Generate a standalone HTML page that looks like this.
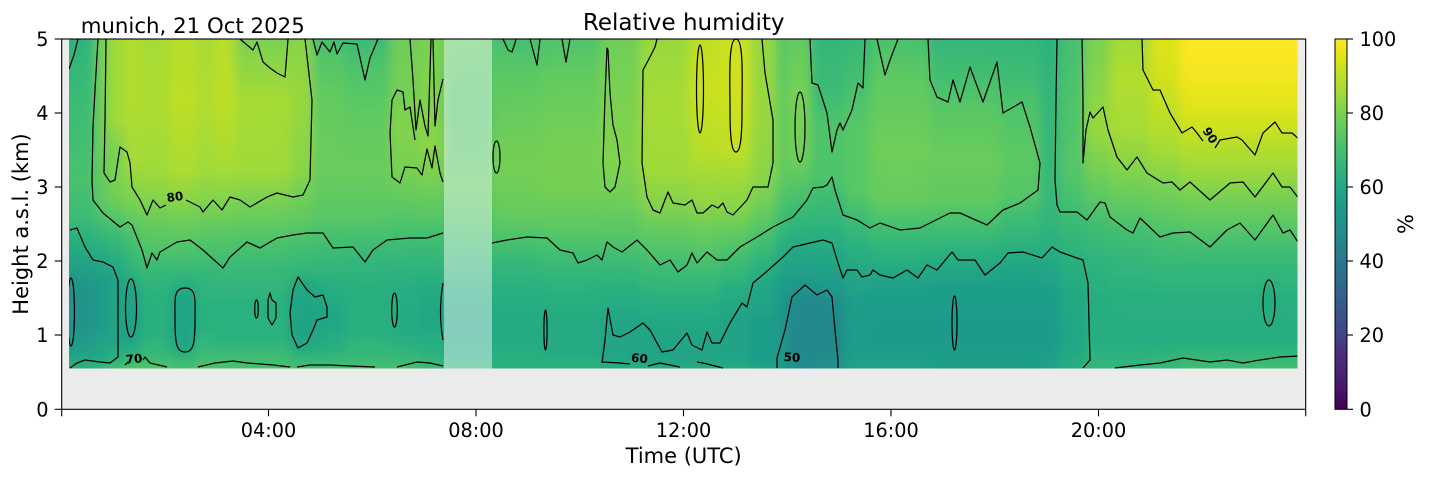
<!DOCTYPE html>
<html><head><meta charset="utf-8"><style>html,body{margin:0;padding:0;background:#fff}svg{display:block}text{font-family:"DejaVu Sans","Liberation Sans",sans-serif}</style></head><body>
<svg width="1429" height="478" viewBox="0 0 1429 478" xmlns="http://www.w3.org/2000/svg">
<defs>
<clipPath id="dc"><rect x="69" y="39" width="1228.5" height="329.5"/></clipPath>
<filter id="bl" x="-3%" y="0" width="106%" height="100%"><feGaussianBlur stdDeviation="5 0"/></filter>
<filter id="bl2" x="-50%" y="-50%" width="200%" height="200%"><feGaussianBlur stdDeviation="4"/></filter>
<linearGradient id="gA" gradientUnits="userSpaceOnUse" x1="0" y1="0" x2="0" y2="1000"><stop offset=".039" stop-color="#2cb27e"/><stop offset=".060" stop-color="#33b67a"/><stop offset=".130" stop-color="#40bd72"/><stop offset=".180" stop-color="#49c16d"/><stop offset=".215" stop-color="#3cbb75"/><stop offset=".240" stop-color="#2aaf7f"/><stop offset=".265" stop-color="#20a186"/><stop offset=".290" stop-color="#20958b"/><stop offset=".330" stop-color="#20958b"/><stop offset=".352" stop-color="#20a187"/><stop offset=".368" stop-color="#2cb27e"/></linearGradient>
<linearGradient id="gB" gradientUnits="userSpaceOnUse" x1="0" y1="0" x2="0" y2="1000"><stop offset=".039" stop-color="#6fce58"/><stop offset=".130" stop-color="#6fce58"/><stop offset=".180" stop-color="#64cb5f"/><stop offset=".205" stop-color="#59c765"/><stop offset=".225" stop-color="#40bd72"/><stop offset=".250" stop-color="#27ad81"/><stop offset=".280" stop-color="#1f9e88"/><stop offset=".330" stop-color="#1f9e88"/><stop offset=".355" stop-color="#22a884"/><stop offset=".368" stop-color="#33b67a"/></linearGradient>
<linearGradient id="gC" gradientUnits="userSpaceOnUse" x1="0" y1="0" x2="0" y2="1000"><stop offset=".039" stop-color="#a0da39"/><stop offset=".120" stop-color="#a0da39"/><stop offset=".150" stop-color="#7ad151"/><stop offset=".175" stop-color="#7ad151"/><stop offset=".195" stop-color="#74cf54"/><stop offset=".215" stop-color="#59c765"/><stop offset=".235" stop-color="#3cbb75"/><stop offset=".260" stop-color="#27ad81"/><stop offset=".280" stop-color="#20a386"/><stop offset=".340" stop-color="#20a386"/><stop offset=".360" stop-color="#2cb27e"/><stop offset=".368" stop-color="#44bf70"/></linearGradient>
<linearGradient id="gD" gradientUnits="userSpaceOnUse" x1="0" y1="0" x2="0" y2="1000"><stop offset=".039" stop-color="#b1dd2e"/><stop offset=".100" stop-color="#b1dd2e"/><stop offset=".160" stop-color="#a6db35"/><stop offset=".195" stop-color="#82d34c"/><stop offset=".215" stop-color="#69cc5b"/><stop offset=".240" stop-color="#44bf70"/><stop offset=".265" stop-color="#33b67a"/><stop offset=".290" stop-color="#22a884"/><stop offset=".320" stop-color="#20a386"/><stop offset=".345" stop-color="#22a884"/><stop offset=".362" stop-color="#3cbb75"/><stop offset=".368" stop-color="#4ec36a"/></linearGradient>
<linearGradient id="gE" gradientUnits="userSpaceOnUse" x1="0" y1="0" x2="0" y2="1000"><stop offset=".039" stop-color="#a6db35"/><stop offset=".100" stop-color="#acdc31"/><stop offset=".170" stop-color="#a0da39"/><stop offset=".200" stop-color="#82d34c"/><stop offset=".220" stop-color="#69cc5b"/><stop offset=".250" stop-color="#4ec36a"/><stop offset=".270" stop-color="#37b877"/><stop offset=".295" stop-color="#2cb27e"/><stop offset=".330" stop-color="#2aaf7f"/><stop offset=".355" stop-color="#37b877"/><stop offset=".368" stop-color="#4ec36a"/></linearGradient>
<linearGradient id="gF" gradientUnits="userSpaceOnUse" x1="0" y1="0" x2="0" y2="1000"><stop offset=".039" stop-color="#b7de2a"/><stop offset=".100" stop-color="#bddf26"/><stop offset=".170" stop-color="#acdc31"/><stop offset=".200" stop-color="#89d547"/><stop offset=".225" stop-color="#69cc5b"/><stop offset=".255" stop-color="#49c16d"/><stop offset=".280" stop-color="#2cb27e"/><stop offset=".300" stop-color="#22a884"/><stop offset=".330" stop-color="#21a685"/><stop offset=".350" stop-color="#27ad81"/><stop offset=".368" stop-color="#44bf70"/></linearGradient>
<linearGradient id="gG" gradientUnits="userSpaceOnUse" x1="0" y1="0" x2="0" y2="1000"><stop offset=".039" stop-color="#a6db35"/><stop offset=".100" stop-color="#b1dd2e"/><stop offset=".170" stop-color="#a0da39"/><stop offset=".200" stop-color="#82d34c"/><stop offset=".225" stop-color="#64cb5f"/><stop offset=".255" stop-color="#44bf70"/><stop offset=".275" stop-color="#33b67a"/><stop offset=".300" stop-color="#2cb27e"/><stop offset=".330" stop-color="#2cb27e"/><stop offset=".355" stop-color="#3cbb75"/><stop offset=".368" stop-color="#4ec36a"/></linearGradient>
<linearGradient id="gH" gradientUnits="userSpaceOnUse" x1="0" y1="0" x2="0" y2="1000"><stop offset=".039" stop-color="#b7de2a"/><stop offset=".100" stop-color="#bddf26"/><stop offset=".170" stop-color="#a6db35"/><stop offset=".200" stop-color="#82d34c"/><stop offset=".225" stop-color="#64cb5f"/><stop offset=".260" stop-color="#40bd72"/><stop offset=".280" stop-color="#33b67a"/><stop offset=".300" stop-color="#2cb27e"/><stop offset=".340" stop-color="#2cb27e"/><stop offset=".368" stop-color="#49c16d"/></linearGradient>
<linearGradient id="gI" gradientUnits="userSpaceOnUse" x1="0" y1="0" x2="0" y2="1000"><stop offset=".039" stop-color="#7ad151"/><stop offset=".060" stop-color="#89d547"/><stop offset=".100" stop-color="#a6db35"/><stop offset=".170" stop-color="#a0da39"/><stop offset=".200" stop-color="#7ad151"/><stop offset=".225" stop-color="#5ec962"/><stop offset=".245" stop-color="#49c16d"/><stop offset=".270" stop-color="#37b877"/><stop offset=".300" stop-color="#2cb27e"/><stop offset=".340" stop-color="#2cb27e"/><stop offset=".368" stop-color="#49c16d"/></linearGradient>
<linearGradient id="gJ" gradientUnits="userSpaceOnUse" x1="0" y1="0" x2="0" y2="1000"><stop offset=".039" stop-color="#89d547"/><stop offset=".100" stop-color="#98d83e"/><stop offset=".170" stop-color="#89d547"/><stop offset=".195" stop-color="#74cf54"/><stop offset=".220" stop-color="#5ec962"/><stop offset=".245" stop-color="#44bf70"/><stop offset=".270" stop-color="#33b67a"/><stop offset=".300" stop-color="#22a884"/><stop offset=".330" stop-color="#20a386"/><stop offset=".350" stop-color="#27ad81"/><stop offset=".368" stop-color="#44bf70"/></linearGradient>
<linearGradient id="gK" gradientUnits="userSpaceOnUse" x1="0" y1="0" x2="0" y2="1000"><stop offset=".039" stop-color="#44bf70"/><stop offset=".060" stop-color="#54c568"/><stop offset=".100" stop-color="#64cb5f"/><stop offset=".170" stop-color="#69cc5b"/><stop offset=".215" stop-color="#59c765"/><stop offset=".240" stop-color="#44bf70"/><stop offset=".265" stop-color="#33b67a"/><stop offset=".290" stop-color="#27ad81"/><stop offset=".320" stop-color="#21a685"/><stop offset=".350" stop-color="#2aaf7f"/><stop offset=".368" stop-color="#44bf70"/></linearGradient>
<linearGradient id="gL" gradientUnits="userSpaceOnUse" x1="0" y1="0" x2="0" y2="1000"><stop offset=".039" stop-color="#3cbb75"/><stop offset=".070" stop-color="#4ec36a"/><stop offset=".110" stop-color="#5ec962"/><stop offset=".170" stop-color="#69cc5b"/><stop offset=".215" stop-color="#59c765"/><stop offset=".238" stop-color="#44bf70"/><stop offset=".260" stop-color="#33b67a"/><stop offset=".290" stop-color="#2aaf7f"/><stop offset=".330" stop-color="#2aaf7f"/><stop offset=".355" stop-color="#37b877"/><stop offset=".368" stop-color="#44bf70"/></linearGradient>
<linearGradient id="gM" gradientUnits="userSpaceOnUse" x1="0" y1="0" x2="0" y2="1000"><stop offset=".039" stop-color="#6fce58"/><stop offset=".090" stop-color="#74cf54"/><stop offset=".130" stop-color="#82d34c"/><stop offset=".175" stop-color="#74cf54"/><stop offset=".210" stop-color="#59c765"/><stop offset=".235" stop-color="#44bf70"/><stop offset=".260" stop-color="#33b67a"/><stop offset=".290" stop-color="#27ad81"/><stop offset=".330" stop-color="#25aa82"/><stop offset=".355" stop-color="#33b67a"/><stop offset=".368" stop-color="#44bf70"/></linearGradient>
<linearGradient id="gN" gradientUnits="userSpaceOnUse" x1="0" y1="0" x2="0" y2="1000"><stop offset=".039" stop-color="#7ad151"/><stop offset=".100" stop-color="#82d34c"/><stop offset=".150" stop-color="#89d547"/><stop offset=".185" stop-color="#74cf54"/><stop offset=".215" stop-color="#59c765"/><stop offset=".232" stop-color="#44bf70"/><stop offset=".260" stop-color="#33b67a"/><stop offset=".290" stop-color="#25aa82"/><stop offset=".320" stop-color="#21a685"/><stop offset=".350" stop-color="#2aaf7f"/><stop offset=".368" stop-color="#3cbb75"/></linearGradient>
<linearGradient id="gO" gradientUnits="userSpaceOnUse" x1="0" y1="0" x2="0" y2="1000"><stop offset=".039" stop-color="#5ec962"/><stop offset=".100" stop-color="#4ec36a"/><stop offset=".150" stop-color="#54c568"/><stop offset=".190" stop-color="#5ec962"/><stop offset=".230" stop-color="#49c16d"/><stop offset=".260" stop-color="#37b877"/><stop offset=".290" stop-color="#27ad81"/><stop offset=".320" stop-color="#20a386"/><stop offset=".345" stop-color="#22a884"/><stop offset=".368" stop-color="#2cb27e"/></linearGradient>
<linearGradient id="gP" gradientUnits="userSpaceOnUse" x1="0" y1="0" x2="0" y2="1000"><stop offset=".039" stop-color="#44bf70"/><stop offset=".070" stop-color="#59c765"/><stop offset=".120" stop-color="#69cc5b"/><stop offset=".170" stop-color="#74cf54"/><stop offset=".215" stop-color="#64cb5f"/><stop offset=".240" stop-color="#49c16d"/><stop offset=".265" stop-color="#33b67a"/><stop offset=".300" stop-color="#27ad81"/><stop offset=".335" stop-color="#25aa82"/><stop offset=".368" stop-color="#2cb27e"/></linearGradient>
<linearGradient id="gQ" gradientUnits="userSpaceOnUse" x1="0" y1="0" x2="0" y2="1000"><stop offset=".039" stop-color="#4ec36a"/><stop offset=".080" stop-color="#64cb5f"/><stop offset=".140" stop-color="#74cf54"/><stop offset=".190" stop-color="#74cf54"/><stop offset=".225" stop-color="#5ec962"/><stop offset=".250" stop-color="#44bf70"/><stop offset=".280" stop-color="#2fb47c"/><stop offset=".320" stop-color="#25aa82"/><stop offset=".350" stop-color="#25aa82"/><stop offset=".368" stop-color="#2cb27e"/></linearGradient>
<linearGradient id="gR" gradientUnits="userSpaceOnUse" x1="0" y1="0" x2="0" y2="1000"><stop offset=".039" stop-color="#6fce58"/><stop offset=".100" stop-color="#7ad151"/><stop offset=".160" stop-color="#82d34c"/><stop offset=".200" stop-color="#6fce58"/><stop offset=".235" stop-color="#54c568"/><stop offset=".260" stop-color="#3cbb75"/><stop offset=".290" stop-color="#2aaf7f"/><stop offset=".320" stop-color="#21a685"/><stop offset=".350" stop-color="#20a386"/><stop offset=".368" stop-color="#27ad81"/></linearGradient>
<linearGradient id="gS" gradientUnits="userSpaceOnUse" x1="0" y1="0" x2="0" y2="1000"><stop offset=".039" stop-color="#98d83e"/><stop offset=".100" stop-color="#a6db35"/><stop offset=".170" stop-color="#a0da39"/><stop offset=".205" stop-color="#82d34c"/><stop offset=".235" stop-color="#5ec962"/><stop offset=".265" stop-color="#40bd72"/><stop offset=".300" stop-color="#2aaf7f"/><stop offset=".330" stop-color="#21a685"/><stop offset=".355" stop-color="#20a386"/><stop offset=".368" stop-color="#25aa82"/></linearGradient>
<linearGradient id="gT" gradientUnits="userSpaceOnUse" x1="0" y1="0" x2="0" y2="1000"><stop offset=".039" stop-color="#bddf26"/><stop offset=".090" stop-color="#cbe120"/><stop offset=".150" stop-color="#b7de2a"/><stop offset=".200" stop-color="#91d643"/><stop offset=".240" stop-color="#5ec962"/><stop offset=".270" stop-color="#40bd72"/><stop offset=".300" stop-color="#2aaf7f"/><stop offset=".330" stop-color="#21a685"/><stop offset=".355" stop-color="#20a386"/><stop offset=".368" stop-color="#25aa82"/></linearGradient>
<linearGradient id="gU" gradientUnits="userSpaceOnUse" x1="0" y1="0" x2="0" y2="1000"><stop offset=".039" stop-color="#cbe120"/><stop offset=".090" stop-color="#d1e11e"/><stop offset=".150" stop-color="#bddf26"/><stop offset=".205" stop-color="#89d547"/><stop offset=".235" stop-color="#5ec962"/><stop offset=".260" stop-color="#40bd72"/><stop offset=".290" stop-color="#27ad81"/><stop offset=".320" stop-color="#20a386"/><stop offset=".355" stop-color="#20a386"/><stop offset=".368" stop-color="#25aa82"/></linearGradient>
<linearGradient id="gV" gradientUnits="userSpaceOnUse" x1="0" y1="0" x2="0" y2="1000"><stop offset=".039" stop-color="#98d83e"/><stop offset=".120" stop-color="#98d83e"/><stop offset=".180" stop-color="#89d547"/><stop offset=".215" stop-color="#64cb5f"/><stop offset=".235" stop-color="#49c16d"/><stop offset=".260" stop-color="#2fb47c"/><stop offset=".285" stop-color="#22a884"/><stop offset=".320" stop-color="#1f9e88"/><stop offset=".355" stop-color="#1e9c89"/><stop offset=".368" stop-color="#20a386"/></linearGradient>
<linearGradient id="gW" gradientUnits="userSpaceOnUse" x1="0" y1="0" x2="0" y2="1000"><stop offset=".039" stop-color="#59c765"/><stop offset=".100" stop-color="#64cb5f"/><stop offset=".170" stop-color="#64cb5f"/><stop offset=".205" stop-color="#49c16d"/><stop offset=".230" stop-color="#33b67a"/><stop offset=".255" stop-color="#25aa82"/><stop offset=".285" stop-color="#1e9c89"/><stop offset=".330" stop-color="#20958b"/><stop offset=".368" stop-color="#1f9a8a"/></linearGradient>
<linearGradient id="gX1" gradientUnits="userSpaceOnUse" x1="0" y1="0" x2="0" y2="1000"><stop offset=".039" stop-color="#64cb5f"/><stop offset=".100" stop-color="#7ad151"/><stop offset=".160" stop-color="#6fce58"/><stop offset=".190" stop-color="#4ec36a"/><stop offset=".215" stop-color="#37b877"/><stop offset=".245" stop-color="#25aa82"/><stop offset=".280" stop-color="#1f9a8a"/><stop offset=".300" stop-color="#228f8c"/><stop offset=".340" stop-color="#238a8d"/><stop offset=".368" stop-color="#228f8c"/></linearGradient>
<linearGradient id="gX2" gradientUnits="userSpaceOnUse" x1="0" y1="0" x2="0" y2="1000"><stop offset=".039" stop-color="#33b67a"/><stop offset=".090" stop-color="#3cbb75"/><stop offset=".130" stop-color="#4ec36a"/><stop offset=".175" stop-color="#4ec36a"/><stop offset=".200" stop-color="#3cbb75"/><stop offset=".230" stop-color="#2cb27e"/><stop offset=".255" stop-color="#22a884"/><stop offset=".285" stop-color="#1f9a8a"/><stop offset=".300" stop-color="#228f8c"/><stop offset=".340" stop-color="#238a8d"/><stop offset=".368" stop-color="#21918c"/></linearGradient>
<linearGradient id="gY" gradientUnits="userSpaceOnUse" x1="0" y1="0" x2="0" y2="1000"><stop offset=".039" stop-color="#37b877"/><stop offset=".080" stop-color="#44bf70"/><stop offset=".130" stop-color="#59c765"/><stop offset=".190" stop-color="#59c765"/><stop offset=".215" stop-color="#40bd72"/><stop offset=".240" stop-color="#2fb47c"/><stop offset=".270" stop-color="#22a884"/><stop offset=".300" stop-color="#1f9e88"/><stop offset=".340" stop-color="#1e9c89"/><stop offset=".368" stop-color="#20a187"/></linearGradient>
<linearGradient id="gZ" gradientUnits="userSpaceOnUse" x1="0" y1="0" x2="0" y2="1000"><stop offset=".039" stop-color="#49c16d"/><stop offset=".080" stop-color="#5ec962"/><stop offset=".150" stop-color="#6fce58"/><stop offset=".200" stop-color="#64cb5f"/><stop offset=".225" stop-color="#44bf70"/><stop offset=".250" stop-color="#2fb47c"/><stop offset=".275" stop-color="#21a685"/><stop offset=".300" stop-color="#1e9c89"/><stop offset=".340" stop-color="#1f9a8a"/><stop offset=".368" stop-color="#20a187"/></linearGradient>
<linearGradient id="gAA" gradientUnits="userSpaceOnUse" x1="0" y1="0" x2="0" y2="1000"><stop offset=".039" stop-color="#33b67a"/><stop offset=".080" stop-color="#44bf70"/><stop offset=".110" stop-color="#59c765"/><stop offset=".160" stop-color="#69cc5b"/><stop offset=".200" stop-color="#5ec962"/><stop offset=".225" stop-color="#44bf70"/><stop offset=".250" stop-color="#2cb27e"/><stop offset=".275" stop-color="#20a386"/><stop offset=".300" stop-color="#1e9c89"/><stop offset=".340" stop-color="#1f9a8a"/><stop offset=".368" stop-color="#1f9e88"/></linearGradient>
<linearGradient id="gAB" gradientUnits="userSpaceOnUse" x1="0" y1="0" x2="0" y2="1000"><stop offset=".039" stop-color="#33b67a"/><stop offset=".070" stop-color="#3cbb75"/><stop offset=".110" stop-color="#4ec36a"/><stop offset=".160" stop-color="#5ec962"/><stop offset=".195" stop-color="#54c568"/><stop offset=".215" stop-color="#40bd72"/><stop offset=".245" stop-color="#2cb27e"/><stop offset=".270" stop-color="#20a386"/><stop offset=".300" stop-color="#1e9c89"/><stop offset=".340" stop-color="#1f9a8a"/><stop offset=".368" stop-color="#1f9e88"/></linearGradient>
<linearGradient id="gAC" gradientUnits="userSpaceOnUse" x1="0" y1="0" x2="0" y2="1000"><stop offset=".039" stop-color="#2cb27e"/><stop offset=".100" stop-color="#33b67a"/><stop offset=".180" stop-color="#37b877"/><stop offset=".215" stop-color="#33b67a"/><stop offset=".245" stop-color="#2aaf7f"/><stop offset=".270" stop-color="#21a685"/><stop offset=".300" stop-color="#1e9c89"/><stop offset=".340" stop-color="#1f9a8a"/><stop offset=".368" stop-color="#20a187"/></linearGradient>
<linearGradient id="gAD" gradientUnits="userSpaceOnUse" x1="0" y1="0" x2="0" y2="1000"><stop offset=".039" stop-color="#44bf70"/><stop offset=".100" stop-color="#4ec36a"/><stop offset=".170" stop-color="#54c568"/><stop offset=".205" stop-color="#44bf70"/><stop offset=".230" stop-color="#37b877"/><stop offset=".260" stop-color="#2aaf7f"/><stop offset=".300" stop-color="#22a884"/><stop offset=".340" stop-color="#21a685"/><stop offset=".368" stop-color="#27ad81"/></linearGradient>
<linearGradient id="gAE" gradientUnits="userSpaceOnUse" x1="0" y1="0" x2="0" y2="1000"><stop offset=".039" stop-color="#7ad151"/><stop offset=".090" stop-color="#89d547"/><stop offset=".130" stop-color="#98d83e"/><stop offset=".170" stop-color="#74cf54"/><stop offset=".200" stop-color="#59c765"/><stop offset=".225" stop-color="#40bd72"/><stop offset=".260" stop-color="#2fb47c"/><stop offset=".300" stop-color="#27ad81"/><stop offset=".340" stop-color="#27ad81"/><stop offset=".368" stop-color="#33b67a"/></linearGradient>
<linearGradient id="gAF" gradientUnits="userSpaceOnUse" x1="0" y1="0" x2="0" y2="1000"><stop offset=".039" stop-color="#a0da39"/><stop offset=".080" stop-color="#b1dd2e"/><stop offset=".130" stop-color="#a6db35"/><stop offset=".170" stop-color="#82d34c"/><stop offset=".200" stop-color="#64cb5f"/><stop offset=".230" stop-color="#44bf70"/><stop offset=".260" stop-color="#33b67a"/><stop offset=".300" stop-color="#2aaf7f"/><stop offset=".340" stop-color="#27ad81"/><stop offset=".368" stop-color="#33b67a"/></linearGradient>
<linearGradient id="gAG" gradientUnits="userSpaceOnUse" x1="0" y1="0" x2="0" y2="1000"><stop offset=".039" stop-color="#dfe318"/><stop offset=".080" stop-color="#d1e11e"/><stop offset=".115" stop-color="#bddf26"/><stop offset=".150" stop-color="#a6db35"/><stop offset=".185" stop-color="#7ad151"/><stop offset=".215" stop-color="#5ec962"/><stop offset=".240" stop-color="#44bf70"/><stop offset=".270" stop-color="#33b67a"/><stop offset=".300" stop-color="#2aaf7f"/><stop offset=".340" stop-color="#27ad81"/><stop offset=".368" stop-color="#37b877"/></linearGradient>
<linearGradient id="gAH" gradientUnits="userSpaceOnUse" x1="0" y1="0" x2="0" y2="1000"><stop offset=".039" stop-color="#fde725"/><stop offset=".070" stop-color="#f7e622"/><stop offset=".100" stop-color="#e5e41b"/><stop offset=".130" stop-color="#cbe120"/><stop offset=".145" stop-color="#b7de2a"/><stop offset=".175" stop-color="#98d83e"/><stop offset=".195" stop-color="#7ad151"/><stop offset=".220" stop-color="#5ec962"/><stop offset=".245" stop-color="#44bf70"/><stop offset=".270" stop-color="#33b67a"/><stop offset=".300" stop-color="#2aaf7f"/><stop offset=".340" stop-color="#27ad81"/><stop offset=".360" stop-color="#37b877"/><stop offset=".368" stop-color="#40bd72"/></linearGradient>
<linearGradient id="cb" x1="0" y1="1" x2="0" y2="0"><stop offset="0" stop-color="#440154"/><stop offset=".05" stop-color="#471365"/><stop offset=".1" stop-color="#482475"/><stop offset=".15" stop-color="#472f7d"/><stop offset=".2" stop-color="#414487"/><stop offset=".25" stop-color="#3b528b"/><stop offset=".3" stop-color="#355f8d"/><stop offset=".35" stop-color="#2f6c8e"/><stop offset=".4" stop-color="#2a788e"/><stop offset=".45" stop-color="#25858e"/><stop offset=".5" stop-color="#21918c"/><stop offset=".55" stop-color="#1e9c89"/><stop offset=".6" stop-color="#22a884"/><stop offset=".65" stop-color="#2fb47c"/><stop offset=".7" stop-color="#44bf70"/><stop offset=".75" stop-color="#5ec962"/><stop offset=".8" stop-color="#7ad151"/><stop offset=".85" stop-color="#a0da39"/><stop offset=".9" stop-color="#bddf26"/><stop offset=".95" stop-color="#dfe318"/><stop offset="1" stop-color="#fde725"/></linearGradient>
</defs>

<rect x="0" y="0" width="1429" height="478" fill="#fff"/>
<!-- axes background -->
<rect x="61.7" y="39" width="1244" height="370.3" fill="#ebebeb"/>

<!-- field -->
<g clip-path="url(#dc)">
<g filter="url(#bl)">
<rect x="30" y="30" width="65" height="345" fill="url(#gA)"/>
<rect x="95" y="30" width="13" height="345" fill="url(#gB)"/>
<rect x="108" y="30" width="17" height="345" fill="url(#gC)"/>
<rect x="125" y="30" width="15" height="345" fill="url(#gD)"/>
<rect x="140" y="30" width="30" height="345" fill="url(#gE)"/>
<rect x="170" y="30" width="25" height="345" fill="url(#gF)"/>
<rect x="195" y="30" width="20" height="345" fill="url(#gG)"/>
<rect x="215" y="30" width="20" height="345" fill="url(#gH)"/>
<rect x="235" y="30" width="55" height="345" fill="url(#gI)"/>
<rect x="290" y="30" width="22" height="345" fill="url(#gJ)"/>
<rect x="312" y="30" width="33" height="345" fill="url(#gK)"/>
<rect x="345" y="30" width="45" height="345" fill="url(#gL)"/>
<rect x="390" y="30" width="30" height="345" fill="url(#gM)"/>
<rect x="420" y="30" width="24" height="345" fill="url(#gN)"/>
<rect x="444" y="30" width="48" height="345" fill="url(#gO)"/>
<rect x="492" y="30" width="48" height="345" fill="url(#gP)"/>
<rect x="540" y="30" width="60" height="345" fill="url(#gQ)"/>
<rect x="600" y="30" width="40" height="345" fill="url(#gR)"/>
<rect x="640" y="30" width="50" height="345" fill="url(#gS)"/>
<rect x="690" y="30" width="30" height="345" fill="url(#gT)"/>
<rect x="720" y="30" width="30" height="345" fill="url(#gU)"/>
<rect x="750" y="30" width="25" height="345" fill="url(#gV)"/>
<rect x="775" y="30" width="15" height="345" fill="url(#gW)"/>
<rect x="790" y="30" width="20" height="345" fill="url(#gX1)"/>
<rect x="810" y="30" width="35" height="345" fill="url(#gX2)"/>
<rect x="845" y="30" width="25" height="345" fill="url(#gY)"/>
<rect x="870" y="30" width="60" height="345" fill="url(#gZ)"/>
<rect x="930" y="30" width="70" height="345" fill="url(#gAA)"/>
<rect x="1000" y="30" width="40" height="345" fill="url(#gAB)"/>
<rect x="1040" y="30" width="20" height="345" fill="url(#gAC)"/>
<rect x="1060" y="30" width="25" height="345" fill="url(#gAD)"/>
<rect x="1085" y="30" width="25" height="345" fill="url(#gAE)"/>
<rect x="1110" y="30" width="40" height="345" fill="url(#gAF)"/>
<rect x="1150" y="30" width="30" height="345" fill="url(#gAG)"/>
<rect x="1180" y="30" width="150" height="345" fill="url(#gAH)"/>
</g>
<g filter="url(#bl2)">
<ellipse cx="72" cy="312" rx="6" ry="34" fill="#21918c" opacity="0.7"/>
<ellipse cx="131" cy="308" rx="7" ry="28" fill="#1f9e88" opacity="0.6"/>
<ellipse cx="185" cy="320" rx="10" ry="31" fill="#20a386" opacity="0.6"/>
<ellipse cx="307" cy="312" rx="17" ry="34" fill="#20a386" opacity="0.6"/>
<ellipse cx="811" cy="328" rx="24" ry="36" fill="#25858e" opacity="0.5"/>
<ellipse cx="1269" cy="303" rx="6" ry="22" fill="#22a884" opacity="0.6"/>
<ellipse cx="700" cy="89" rx="4" ry="44" fill="#cbe120" opacity="0.6"/>
<ellipse cx="736" cy="96" rx="6" ry="55" fill="#d1e11e" opacity="0.6"/>
</g>
<!-- gap overlay -->
<rect x="444" y="39" width="48" height="330" fill="#fff" fill-opacity="0.45"/>
</g>

<!-- contour lines -->
<g clip-path="url(#dc)" fill="none" stroke="#000" stroke-width="1.25" stroke-linejoin="round">
<path d="M69,69 L74,55 L78,39"/>
<path d="M98,39 L95,90 L93,127 L92,180 L93,200 L103,213 L120,227 L128,222 L132,225 L142,250 L147,268 L152,253 L157,260 L160,252 L177,242 L190,240 L203,250 L223,268 L230,257 L247,242 L260,248 L277,238 L293,235 L307,233 L323,233 L333,248 L353,247 L365,262 L373,250 L387,240 L410,238 L427,238 L443,233"/>
<path d="M106,39 L105,120 L104,173 L110,182 L115,180 L120,147 L127,152 L130,163 L132,187 L140,200 L147,215 L153,200 L160,208 L166,205 M186,200 L200,207 L203,212 L213,200 L222,210 L230,197 L240,200 L250,207 L267,197 L277,193 L293,197 L303,195 L310,180 L312,100 L305,39"/>
<path d="M240,39 L253,50 L257,42 L263,62 L270,68 L277,73 L285,77 L288,39"/>
<path d="M313,39 L317,55 L322,42 L330,52 L334,42 L337,54 L343,43 L357,44 L365,80 L370,58 L378,39"/>
<path d="M443,182 L440,173 L435,146 L432,168 L427,149 L422,175 L417,168 L405,167 L400,183 L392,177 L390,133 L392,100 L397,90 L403,92 L405,110 L410,107 L415,140"/>
<path d="M410,39 L413,80 L416,130 L420,100 L425,126 L428,136 L431,39 M433,39 L435,126 L438,100 L443,79"/>
<path d="M70,230 L77,228 L85,247 L93,260 L103,262 L113,267 L118,280 L118,357 L110,363 L100,362 L85,360 L77,363 L70,368"/>
<ellipse cx="71" cy="312" rx="3.5" ry="34"/>
<ellipse cx="131" cy="308" rx="5.5" ry="29"/>
<path d="M185,288 C197,288 195,300 195,320 C195,345 193,352 185,352 C177,352 175,345 175,320 C175,300 173,288 185,288 Z"/>
<ellipse cx="256.5" cy="309" rx="1.8" ry="9"/>
<path d="M270,293 L272,300 L276,303 L276,318 L272,325 L268,318 L268,300 Z"/>
<path d="M298,277 L293,290 L290,313 L292,335 L298,348 L307,343 L313,330 L317,320 L327,317 L327,307 L323,295 L315,297 L307,290 Z"/>
<ellipse cx="394.5" cy="310" rx="2.8" ry="17"/>
<path d="M443,283 Q438,312 443,340"/>
<path d="M125,365 L128,362 M143,360 L145,357 L150,363 L167,367"/>
<path d="M198,367 L215,363 L233,361 L247,363 L273,365 L290,367"/>
<path d="M297,367 L310,365 L330,365 L350,366 L375,367"/>
<path d="M397,367 L417,362 L430,363 L443,366"/>
<path d="M492,243 L507,240 L527,237 L547,238 L560,250 L573,253 L578,263 L587,260 L597,255 L602,260 L607,242 L613,247 L622,252 L637,240 L647,250 L660,265 L670,260 L678,272 L687,265 L692,253 L697,263 L707,252 L717,260 L727,260 L740,247 L757,237 L773,227 L793,217 L807,200 L813,188 L823,187 L827,185 L832,177 L835,190 L843,215 L857,220 L870,228 L880,223 L900,230 L920,228 L950,213 L960,213 L987,225 L1003,210 L1020,203 L1038,190 L1040,163 L1030,127 L1022,102 L1003,113 L997,62 L983,102 L970,67 L960,102 L953,80 L948,102 L937,97 L930,80 L928,39"/>
<ellipse cx="496.5" cy="157" rx="3.5" ry="16"/>
<path d="M503,39 L508,50 L512,52 L515,43 L516,39"/>
<path d="M530,39 L537,65 L540,39"/>
<path d="M562,39 L566,62 L570,39"/>
<path d="M607,48 L605,97 L603,163 L605,187 L610,192 L615,187 L620,163 L617,140 L613,125 L610,93 L608,50 Z"/>
<ellipse cx="545.5" cy="330" rx="1.6" ry="20"/>
<path d="M657,39 L655,47 L650,57 L643,70 L642,163 L647,197 L653,210 L660,213 L668,192 L673,203 L685,205 L692,200 L697,213 L703,213 L712,205 L718,208 L723,203 L727,212 L733,215 L747,200 L753,187 L768,187 L773,163 L773,120 L765,73 L762,39"/>
<ellipse cx="700" cy="89" rx="3.5" ry="44"/>
<path d="M736,39 C744,39 742,80 742,110 C742,140 740,152 736,152 C732,152 730,140 730,110 C730,80 728,39 736,39 Z"/>
<ellipse cx="800" cy="127" rx="5" ry="35"/>
<path d="M810,39 L812,83 L818,85 L827,113 L832,152 L837,130 L840,123 L843,130 L852,110 L858,83 L863,88 L865,39"/>
<path d="M877,39 L885,75 L890,60 L898,39"/>
<path d="M602,363 L605,340 L608,308 L613,335 L620,337 L630,332 L643,323 L650,330 L662,352 L673,350 L687,333 L692,345 L702,350 L707,332 L712,343 L720,343 L730,323 L742,303 L747,307 L753,283 L765,273 L783,257 L793,247 L823,240 L832,243 L838,263 L843,278 L847,270 L857,270 L862,277 L870,275 L873,270 L880,275 L893,278 L907,270 L918,278 L927,265 L937,270 L952,252 L958,260 L975,260 L985,275 L1000,263 L1008,253 L1023,252 L1042,258 L1052,247 L1060,252 L1077,258 L1083,260 L1088,283 L1090,360 L1083,368"/>
<path d="M602,362 L620,363 L630,364 M648,366 L660,363 L680,367 M697,362 L703,363 L723,368"/>
<path d="M777,368 L777,358 L785,330 L792,297 L805,285 L817,295 L827,290 L832,297 L835,330 L838,360 L838,368"/>
<ellipse cx="954.5" cy="323" rx="2.5" ry="27"/>
<ellipse cx="1269" cy="303" rx="6" ry="23"/>
<path d="M1057,39 L1056,100 L1055,180 L1057,205 L1060,212 L1077,212 L1087,220 L1100,202 L1105,203 L1110,217 L1127,230 L1133,233 L1140,218 L1160,237 L1173,233 L1190,232 L1210,247 L1227,230 L1240,223 L1255,240 L1273,215 L1283,233 L1290,230 L1300,245"/>
<path d="M1082,39 L1083,100 L1083,163 L1086,130 L1090,112 L1093,118 L1103,107 L1108,130 L1117,157 L1127,170 L1137,157 L1147,173 L1163,183 L1172,182 L1180,190 L1190,182 L1210,200 L1230,183 L1243,182 L1255,197 L1273,173 L1282,187 L1290,187 L1300,200"/>
<path d="M1142,39 L1143,70 L1153,90 L1160,90 L1170,113 L1182,133 L1192,127 L1197,133 L1203,141 M1215,148 L1220,140 L1237,137 L1242,140 L1255,155 L1263,133 L1275,122 L1282,133 L1292,133 L1300,140"/>
<path d="M1115,368 L1140,365 L1160,363 L1183,358 L1210,362 L1227,360 L1243,363 L1260,360 L1280,357 L1300,356"/>
</g>

<!-- contour labels -->
<g font-size="12" font-weight="bold" fill="#000" text-anchor="middle">
<text x="175" y="201" transform="rotate(-8 175 197)">80</text>
<text x="134" y="363" transform="rotate(-5 134 359)">70</text>
<text x="639.5" y="362.5" transform="rotate(5 639.5 358)">60</text>
<text x="792" y="361.5" transform="rotate(3 792 357)">50</text>
<text x="1210" y="139.5" transform="rotate(57 1210 135.5)">90</text>
</g>

<!-- axes frame -->
<rect x="61.7" y="39" width="1244" height="370.3" fill="none" stroke="#000" stroke-width="1.1"/>
<!-- ticks -->
<g stroke="#000" stroke-width="1.1">
<line x1="61.7" y1="409.3" x2="61.7" y2="416.3"/>
<line x1="268.5" y1="409.3" x2="268.5" y2="416.3"/>
<line x1="476" y1="409.3" x2="476" y2="416.3"/>
<line x1="683.5" y1="409.3" x2="683.5" y2="416.3"/>
<line x1="891" y1="409.3" x2="891" y2="416.3"/>
<line x1="1098.5" y1="409.3" x2="1098.5" y2="416.3"/>
<line x1="1305.7" y1="409.3" x2="1305.7" y2="416.3"/>
<line x1="54.7" y1="39" x2="61.7" y2="39"/>
<line x1="54.7" y1="113" x2="61.7" y2="113"/>
<line x1="54.7" y1="187" x2="61.7" y2="187"/>
<line x1="54.7" y1="261" x2="61.7" y2="261"/>
<line x1="54.7" y1="335" x2="61.7" y2="335"/>
<line x1="54.7" y1="409.3" x2="61.7" y2="409.3"/>
</g>
<g font-size="19.3" fill="#000">
<g text-anchor="middle">
<text x="268.5" y="437">04:00</text>
<text x="476" y="437">08:00</text>
<text x="683.5" y="437">12:00</text>
<text x="891" y="437">16:00</text>
<text x="1098.5" y="437">20:00</text>
</g>
<g text-anchor="end">
<text x="48.5" y="46">5</text>
<text x="48.5" y="120">4</text>
<text x="48.5" y="194">3</text>
<text x="48.5" y="268">2</text>
<text x="48.5" y="342">1</text>
<text x="48.5" y="416.3">0</text>
</g>
</g>
<text x="683.7" y="463" font-size="21" text-anchor="middle" fill="#000">Time (UTC)</text>
<text transform="translate(28 224) rotate(-90)" font-size="21" text-anchor="middle" fill="#000">Height a.s.l. (km)</text>
<text x="683.7" y="30" font-size="23" text-anchor="middle" fill="#000">Relative humidity</text>
<text x="80.7" y="33" font-size="21.3" fill="#000">munich, 21 Oct 2025</text>

<!-- colorbar -->
<rect x="1335" y="39" width="12" height="370.3" fill="url(#cb)" stroke="#000" stroke-width="1"/>
<g stroke="#000" stroke-width="1.1">
<line x1="1347" y1="39" x2="1353" y2="39"/>
<line x1="1347" y1="113" x2="1353" y2="113"/>
<line x1="1347" y1="187" x2="1353" y2="187"/>
<line x1="1347" y1="261" x2="1353" y2="261"/>
<line x1="1347" y1="335" x2="1353" y2="335"/>
<line x1="1347" y1="409.3" x2="1353" y2="409.3"/>
</g>
<g font-size="19.3" fill="#000">
<text x="1359.5" y="46">100</text>
<text x="1359.5" y="120">80</text>
<text x="1359.5" y="194">60</text>
<text x="1359.5" y="268">40</text>
<text x="1359.5" y="342">20</text>
<text x="1359.5" y="416.3">0</text>
</g>
<text transform="translate(1413 224) rotate(-90)" font-size="21" text-anchor="middle" fill="#000">%</text>
</svg>
</body></html>
